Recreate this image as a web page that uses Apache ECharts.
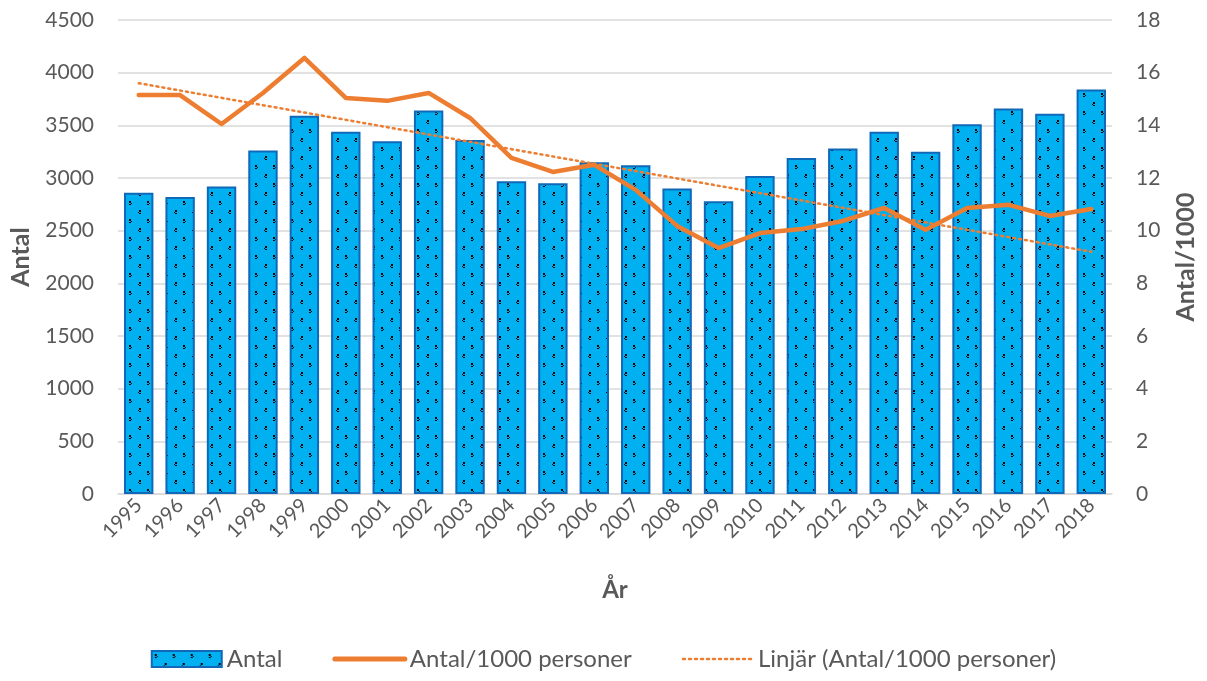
<!DOCTYPE html>
<html>
<head>
<meta charset="utf-8">
<script src="https://cdn.jsdelivr.net/npm/echarts@6/dist/echarts.min.js"></script>
<style>
  html, body { margin: 0; padding: 0; background: #fff; }
  #chart { width: 1207px; height: 681px; }
</style>
</head>
<body>
<div id="chart"></div>
<script>
const years = ['1995', '1996', '1997', '1998', '1999', '2000', '2001', '2002', '2003', '2004', '2005', '2006',
  '2007', '2008', '2009', '2010', '2011', '2012', '2013', '2014', '2015', '2016', '2017', '2018']
const antal = [2860, 2820, 2920, 3260, 3590, 3440, 3350, 3640, 3360, 2970, 2950, 3150,
  3120, 2900, 2780, 3020, 3190, 3280, 3440, 3250, 3510, 3660, 3610, 3840]
const perThousand = [15.15, 15.15, 14.05, 15.23, 16.56, 15.04, 14.93, 15.23, 14.28, 12.76, 12.23, 12.5,
  11.55, 10.18, 9.34, 9.91, 10.06, 10.37, 10.86, 10.03, 10.86, 10.98, 10.56, 10.82]
// trend line end points
const trend = [15.6, null, null, null, null, null, null, null, null, null, null, null,
  null, null, null, null, null, null, null, null, null, null, null, 9.2]

const leftTicks = { min: 0, max: 4500, interval: 500 }
const rightTicks = { min: 0, max: 18, interval: 2 }

const textColor = '#595959'
const font = 'Lato, "Open Sans", sans-serif'

// dotted blue fill like the excel pattern
function makePattern() {
  const c = document.createElement('canvas')
  c.width = 18
  c.height = 18
  const ctx = c.getContext('2d')
  ctx.fillStyle = '#00B0F0'
  ctx.fillRect(0, 0, 18, 18)
  ctx.fillStyle = '#000'
  // ">" mark
  ctx.fillRect(3, 3, 2, 2)
  ctx.fillRect(5, 5, 1, 1)
  ctx.fillRect(3, 6, 2, 1)
  // "<" mark
  ctx.fillRect(13, 12, 2, 2)
  ctx.fillRect(12, 14, 1, 1)
  ctx.fillRect(13, 15, 2, 1)
  return c
}
const pattern = { image: makePattern(), repeat: 'repeat' }

const chart = echarts.init(document.getElementById('chart'))
chart.setOption({
  animation: false,
  textStyle: { fontFamily: font },
  grid: { left: 116, right: 95, top: 20, bottom: 187 },
  legend: {
    bottom: 5,
    left: 'center',
    itemWidth: 70,
    itemHeight: 16,
    itemGap: 50,
    textStyle: { color: textColor, fontSize: 24, fontFamily: font },
    data: [
      { name: 'Antal', icon: 'rect' },
      { name: 'Antal/1000 personer', itemStyle: { opacity: 0 }, lineStyle: { width: 5 } },
      { name: 'Linjär (Antal/1000 personer)', itemStyle: { opacity: 0 }, lineStyle: { width: 2.5 } },
    ],
  },
  xAxis: {
    type: 'category',
    data: years,
    name: 'År',
    nameLocation: 'middle',
    nameGap: 84,
    nameTextStyle: { color: textColor, fontSize: 24, fontWeight: 'bold' },
    axisLine: { lineStyle: { color: '#d9d9d9', width: 1.5 } },
    axisTick: { show: false },
    axisLabel: { color: textColor, fontSize: 20, rotate: 45, margin: 8, interval: 0 },
  },
  yAxis: [
    {
      type: 'value',
      ...leftTicks,
      name: 'Antal',
      nameLocation: 'middle',
      nameRotate: 90,
      nameGap: 85,
      nameTextStyle: { color: textColor, fontSize: 25, fontWeight: 'bold' },
      axisLabel: { color: textColor, fontSize: 21, margin: 24, formatter: v => String(v) },
      axisLine: { show: false },
      axisTick: { show: false },
      splitLine: { lineStyle: { color: '#d9d9d9', width: 1.5 } },
    },
    {
      type: 'value',
      ...rightTicks,
      name: 'Antal/1000',
      nameLocation: 'middle',
      nameRotate: 90,
      nameGap: 61,
      nameTextStyle: { color: textColor, fontSize: 25, fontWeight: 'bold' },
      axisLabel: { color: textColor, fontSize: 21, margin: 24 },
      axisLine: { show: false },
      axisTick: { show: false },
      splitLine: { show: false },
    },
  ],
  series: [
    {
      name: 'Antal',
      type: 'bar',
      data: antal,
      barWidth: '71%',
      itemStyle: { color: pattern, borderColor: '#1068B8', borderWidth: 2 },
    },
    {
      name: 'Antal/1000 personer',
      type: 'line',
      yAxisIndex: 1,
      data: perThousand,
      symbol: 'none',
      lineStyle: { color: '#ED7D31', width: 4.5, cap: 'round', join: 'round' },
      itemStyle: { color: '#ED7D31' },
      z: 3,
    },
    {
      name: 'Linjär (Antal/1000 personer)',
      type: 'line',
      yAxisIndex: 1,
      data: trend,
      connectNulls: true,
      symbol: 'none',
      lineStyle: { color: '#ED7D31', width: 2.5, type: [2, 4], cap: 'round' },
      itemStyle: { color: '#ED7D31' },
      z: 4,
    },
  ],
})
</script>
</body>
</html>
